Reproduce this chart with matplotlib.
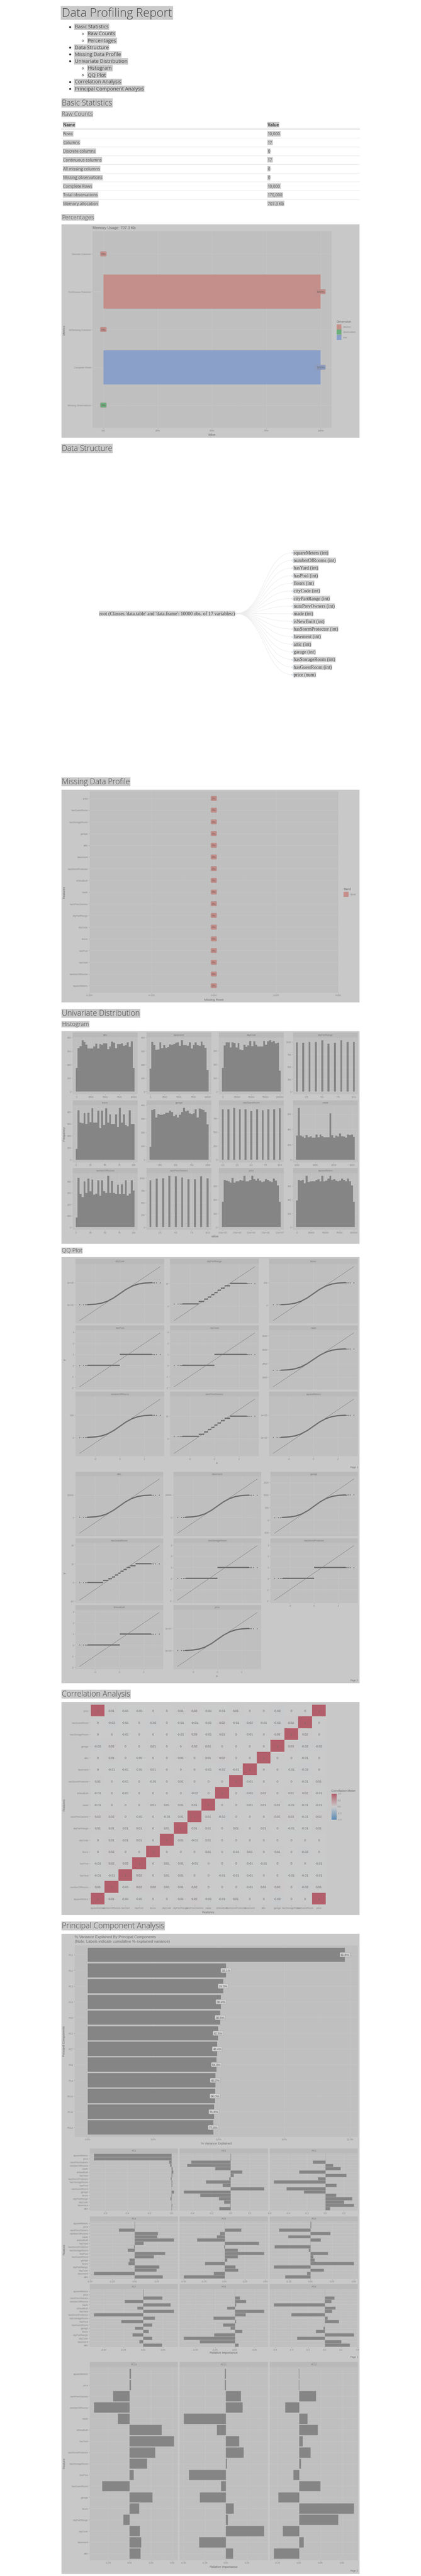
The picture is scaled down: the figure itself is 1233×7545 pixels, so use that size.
import numpy as np
import matplotlib
matplotlib.use('Agg')
import matplotlib.pyplot as plt
from matplotlib.patches import Rectangle, PathPatch
from matplotlib.path import Path
from matplotlib.colors import LinearSegmentedColormap
from matplotlib.ticker import AutoMinorLocator, NullLocator

plt.rcParams['font.family'] = ['Liberation Sans', 'DejaVu Sans']

# ---------------- data ----------------
toc_items = [('Basic Statistics', 0), ('Raw Counts', 1), ('Percentages', 1), ('Data Structure', 0),
             ('Missing Data Profile', 0), ('Univariate Distribution', 0), ('Histogram', 1),
             ('QQ Plot', 1), ('Correlation Analysis', 0), ('Principal Component Analysis', 0)]

stat_names = ['Rows', 'Columns', 'Discrete columns', 'Continuous columns', 'All missing columns',
              'Missing observations', 'Complete Rows', 'Total observations', 'Memory allocation']
stat_values = ['10,000', '17', '0', '17', '0', '0', '10,000', '170,000', '707.3 Kb']

pct_metrics = ['Discrete Columns', 'Continuous Columns', 'All Missing Columns', 'Complete Rows',
               'Missing Observations']
pct_values = [0, 100, 0, 100, 0]
pct_dimension = ['column', 'column', 'column', 'row', 'observation']

variables = ['squareMeters', 'numberOfRooms', 'hasYard', 'hasPool', 'floors', 'cityCode', 'cityPartRange',
             'numPrevOwners', 'made', 'isNewBuilt', 'hasStormProtector', 'basement', 'attic', 'garage',
             'hasStorageRoom', 'hasGuestRoom', 'price']
var_types = ['int'] * 16 + ['num']

missing_features = ['price', 'hasGuestRoom', 'hasStorageRoom', 'garage', 'attic', 'basement',
                    'hasStormProtector', 'isNewBuilt', 'made', 'numPrevOwners', 'cityPartRange',
                    'cityCode', 'floors', 'hasPool', 'hasYard', 'numberOfRooms', 'squareMeters']
missing_rows = [0] * 17

hist_attic = [175, 322, 338, 380, 368, 348, 320, 319, 319, 335, 355, 320, 352, 348, 356,
              356, 315, 335, 370, 362, 323, 353, 353, 358, 340, 345, 365, 333, 371, 175]
hist_basement = [170, 368, 345, 308, 312, 365, 322, 345, 324, 330, 350, 348, 352, 362, 365,
                 340, 380, 345, 345, 340, 365, 320, 345, 365, 345, 340, 370, 345, 325, 160]
hist_citycode = [175, 340, 362, 362, 325, 362, 356, 325, 358, 308, 303, 345, 330, 340, 372,
                 335, 370, 345, 332, 333, 333, 372, 345, 370, 378, 365, 372, 355, 360, 155]
hist_citypart_vals = [1, 2, 3, 4, 5, 6, 7, 8, 9, 10]
hist_citypart = [990, 985, 995, 1000, 1030, 965, 985, 1035, 995, 1000]
hist_floors = [90, 415, 310, 305, 390, 300, 395, 315, 430, 310, 310, 410, 265, 410, 290,
               430, 310, 380, 300, 300, 380, 275, 435, 310, 380, 290, 280, 415, 300, 300]
hist_garage = [95, 365, 370, 310, 335, 330, 330, 335, 345, 345, 360, 350, 320, 330, 310,
               330, 350, 380, 355, 360, 340, 335, 340, 370, 310, 375, 370, 365, 350, 260]
hist_guest_vals = [0, 1, 2, 3, 4, 5, 6, 7, 8, 9, 10]
hist_guest = [915, 910, 940, 910, 915, 885, 910, 895, 915, 915, 930]
hist_made = [315, 680, 315, 305, 285, 320, 295, 310, 290, 290, 330, 295, 330, 310, 295,
             295, 295, 605, 320, 290, 315, 305, 345, 310, 305, 290, 330, 320, 330, 300]
hist_rooms = [85, 430, 290, 265, 400, 300, 425, 315, 415, 285, 295, 410, 275, 410, 315,
              300, 450, 300, 405, 300, 290, 370, 290, 375, 290, 410, 275, 295, 410, 320]
hist_owners_vals = [1, 2, 3, 4, 5, 6, 7, 8, 9, 10]
hist_owners = [950, 985, 990, 1045, 1035, 1010, 975, 975, 1035, 995]
hist_price = [185, 345, 340, 335, 325, 360, 325, 335, 335, 345, 340, 375, 335, 335, 345,
              375, 350, 340, 355, 340, 330, 335, 350, 345, 335, 330, 355, 340, 305, 185]
hist_sqm = [195, 345, 340, 345, 320, 375, 330, 335, 335, 335, 345, 350, 335, 375, 335,
            340, 355, 375, 345, 350, 340, 335, 340, 355, 345, 335, 355, 335, 305, 185]

# qq: theoretical quantiles and fraction of the data range
QQ_X = [-3.29, -2.97, -2.81, -2.70, -2.61, -2.5, -2.0, -1.5, -1.0, -0.5, 0.0,
        0.5, 1.0, 1.5, 2.0, 2.5, 2.61, 2.70, 2.81, 2.97, 3.29]
QQ_FRAC = [0.0, 0.001, 0.002, 0.003, 0.004, 0.006, 0.023, 0.067, 0.159, 0.309, 0.5,
           0.691, 0.841, 0.933, 0.977, 0.994, 0.996, 0.997, 0.998, 0.999, 1.0]
qq_bounds_10 = [-1.28, -0.84, -0.52, -0.25, 0.0, 0.25, 0.52, 0.84, 1.28]
qq_bounds_11 = [-1.34, -0.91, -0.60, -0.35, -0.11, 0.11, 0.35, 0.60, 0.91, 1.34]
qq_bounds_2 = [0.0]

corr_rows = [  # rows top to bottom (price ... squareMeters), columns in `variables` order
    [1, 0.01, -0.01, -0.01, 0, 0, 0.01, 0.02, -0.01, -0.01, 0.01, 0, 0, -0.02, 0, 0, 1],
    [0, -0.02, -0.01, 0, -0.02, 0, -0.01, -0.01, -0.01, 0.02, -0.01, -0.02, -0.01, -0.02, 0.02, 1, 0],
    [0, 0, -0.01, 0, 0, 0, -0.01, 0.03, -0.01, 0.01, 0, -0.01, 0, 0.03, 1, 0.02, 0],
    [-0.02, 0.02, 0, 0, 0.01, 0, 0, 0.02, 0.01, 0, 0, 0, 0, 1, 0.03, -0.02, -0.02],
    [0, 0.01, 0, -0.01, 0, 0, 0.01, 0, 0.01, 0.02, 0, 0, 1, 0, 0, -0.01, 0],
    [0, -0.01, -0.01, -0.01, 0.01, 0, 0, 0, -0.01, -0.02, -0.01, 1, 0, 0, -0.01, -0.02, 0],
    [0.01, 0, -0.01, 0, -0.01, 0, 0.01, 0, 0, 0, 1, -0.01, 0, 0, 0, -0.01, 0.01],
    [-0.01, 0, -0.01, 0, 0, 0, 0, -0.02, 0, 1, 0, -0.02, 0.02, 0, 0.01, 0.02, -0.01],
    [-0.01, 0, 0, 0, 0.01, 0.01, 0.01, 0.01, 1, 0, 0, -0.01, 0.01, 0.01, -0.01, -0.01, -0.01],
    [0.02, 0.02, 0, -0.01, 0, -0.01, 0.01, 1, 0.01, -0.02, 0, 0, 0, 0.02, 0.03, -0.01, 0.02],
    [0.01, 0.01, 0.01, 0.01, 0, 0.01, 1, 0.01, 0.01, 0, 0.01, 0, 0.01, 0, -0.01, -0.01, 0.01],
    [0, 0.01, 0.01, 0.01, 0, 1, 0.01, -0.01, 0.01, 0, 0, 0, 0, 0, 0, 0, 0],
    [0, 0.02, 0, 0, 1, 0, 0, 0, 0.01, 0, -0.01, 0.01, 0, 0.01, 0, -0.02, 0],
    [-0.01, 0.02, 0.02, 1, 0, 0.01, 0.01, -0.01, 0, 0, 0, -0.01, -0.01, 0, 0, 0, -0.01],
    [-0.01, -0.01, 1, 0.02, 0, 0.01, 0.01, 0, 0, -0.01, -0.01, -0.01, 0, 0, -0.01, -0.01, -0.01],
    [0.01, 1, -0.01, 0.02, 0.02, 0.01, 0.01, 0.02, 0, 0, 0, -0.01, 0.01, 0.02, 0, -0.02, 0.01],
    [1, 0.01, -0.01, -0.01, 0, 0, 0.01, 0.02, -0.01, -0.01, 0.01, 0, 0, -0.02, 0, 0, 1],
]

pc_names = ['PC%d' % i for i in range(1, 13)]
pca_var = [11.77, 6.33, 6.20, 6.10, 6.06, 5.97, 5.93, 5.89, 5.84, 5.83, 5.78, 5.75]
pca_cum = ['11.8%', '18.1%', '24.3%', '30.4%', '36.5%', '42.5%', '48.4%', '54.3%', '60.2%',
           '66.0%', '71.8%', '77.6%']
load_features = ['squareMeters', 'price', 'numPrevOwners', 'numberOfRooms', 'made', 'isNewBuilt',
                 'hasYard', 'hasStormProtector', 'hasStorageRoom', 'hasPool', 'hasGuestRoom',
                 'garage', 'floors', 'cityPartRange', 'cityCode', 'basement', 'attic']
pc1 = [-0.704, -0.704, -0.024, -0.012, 0.008, 0.013, 0.006, -0.008, 0.004, 0.005, 0.0, 0.02, 0.001, -0.01, 0.0, 0.005, 0.001]
pc2 = [0.002, 0.002, -0.413, -0.458, -0.162, 0.12, 0.03, -0.015, -0.258, -0.085, 0.349, -0.493, -0.319, -0.125, -0.07, -0.005, -0.12]
pc3 = [0.0, 0.0, -0.136, 0.08, 0.161, -0.285, 0.225, -0.082, -0.557, 0.119, -0.421, -0.234, 0.115, 0.285, 0.199, 0.306, 0.047]
pc4 = [0.002, 0.002, -0.178, 0.261, 0.251, 0.439, 0.1, -0.01, -0.078, 0.341, 0.212, -0.059, -0.071, 0.273, 0.246, -0.459, 0.315]
pc5 = [0.0, 0.0, 0.202, -0.056, -0.096, -0.335, 0.418, -0.005, 0.16, 0.481, 0.16, 0.032, -0.242, 0.133, 0.165, -0.133, -0.5]
pc6 = [0.005, 0.005, -0.363, 0.225, -0.258, 0.115, 0.0, -0.415, -0.02, 0.198, 0.028, 0.045, 0.498, -0.423, 0.153, -0.04, -0.293]
pc7 = [0.003, 0.003, 0.242, -0.236, 0.346, -0.077, 0.387, -0.626, 0.146, -0.277, 0.11, -0.104, 0.069, -0.135, 0.113, -0.049, 0.236]
pc8 = [0.0, 0.0, 0.064, 0.141, 0.015, -0.097, 0.37, 0.135, -0.271, 0.015, -0.152, -0.055, 0.094, -0.265, -0.652, -0.448, 0.044]
pc9 = [0.0, 0.0, 0.116, 0.082, -0.616, 0.132, 0.087, -0.405, 0.037, 0.171, 0.002, -0.013, -0.105, 0.355, -0.334, 0.2, 0.303]
pc10 = [0.015, 0.015, -0.194, -0.417, -0.136, 0.371, 0.515, 0.295, 0.202, 0.048, -0.321, 0.263, 0.111, -0.073, 0.116, 0.134, 0.126]
pc11 = [-0.015, -0.015, 0.178, 0.198, -0.5, -0.106, 0.157, 0.209, 0.01, -0.438, -0.057, -0.309, 0.093, 0.023, 0.451, -0.317, 0.082]
pc12 = [-0.005, -0.005, 0.194, -0.164, 0.096, 0.215, 0.04, 0.131, 0.02, -0.068, 0.245, -0.242, 0.636, 0.452, -0.192, 0.05, -0.295]

# ---------------- styling ----------------
W, H = 1233, 7546
HEAD = ['Open Sans', 'DejaVu Sans']
PAGE_TXT = '#474747'
HL = '#c9c9c9'
PLOT_BG = '#c8c8c8'
PANEL_BG = '#bfbfbf'
GRID = '#c6c6c6'
GRID_MIN = '#c2c2c2'
STRIP = '#b9b9b9'
BAR = '#858585'
TICK_TXT = '#868686'
TICK_C = '#9a9a9a'
AX_TXT = '#6a6a6a'
DIM_COL = {'column': '#c48f8a', 'observation': '#6caf7c', 'row': '#8aa0c8'}

fig = plt.figure(figsize=(W / 100, H / 100), dpi=100, facecolor='white')
ov = fig.add_axes([0, 0, 1, 1], zorder=-1)
ov.set_xlim(0, W)
ov.set_ylim(H, 0)
ov.axis('off')


def ax_at(x0, y0, x1, y1):
    return fig.add_axes([x0 / W, 1 - y1 / H, (x1 - x0) / W, (y1 - y0) / H])


def bg(x0, y0, x1, y1, color=PLOT_BG):
    ov.add_patch(Rectangle((x0, y0), x1 - x0, y1 - y0, fc=color, ec='none', zorder=0))


def strip(x0, y0, x1, y1, label):
    ov.add_patch(Rectangle((x0, y0), x1 - x0, y1 - y0, fc=STRIP, ec='none', zorder=1))
    ov.text((x0 + x1) / 2, (y0 + y1) / 2, label, ha='center', va='center', fontsize=5, color='#777777')


def panel(x0, y0, x1, y1):
    ax = ax_at(x0, y0, x1, y1)
    ax.set_facecolor(PANEL_BG)
    for s in ax.spines.values():
        s.set_visible(False)
    ax.tick_params(which='major', length=2.2, width=0.6, color=TICK_C, labelsize=5,
                   labelcolor=TICK_TXT, pad=1.2)
    ax.tick_params(which='minor', length=0)
    ax.grid(True, which='major', color=GRID, lw=0.8)
    ax.grid(True, which='minor', color=GRID_MIN, lw=0.45)
    ax.set_axisbelow(True)
    return ax


def gg_lim(lo, hi, mult=0.05):
    d = (hi - lo) * mult
    return lo - d, hi + d


def hl_text(x, y, s, size, family=HEAD, color=PAGE_TXT, pad=0.08, fc=HL, **kw):
    ov.text(x, y, s, fontsize=size, family=family, color=color, va='center', ha='left',
            bbox=dict(boxstyle='square,pad=%g' % pad, fc=fc, ec='none'), **kw)


def ylab(x, y, s):
    ov.text(x, y, s, rotation=90, ha='center', va='center', fontsize=6.6, color=AX_TXT)


def xlab(x, y, s):
    ov.text(x, y, s, ha='center', va='center', fontsize=6.6, color=AX_TXT)


# ---------------- header, toc ----------------
hl_text(181, 39, 'Data Profiling Report', 25, fontweight='light', color='#444444', pad=0.08)
toc_y = [79.6, 99.9, 120.2, 140.1, 160.4, 180.3, 200.7, 220.6, 240.9, 261.2]
for (label, lvl), y in zip(toc_items, toc_y):
    if lvl == 0:
        ov.plot(204.5, y, 'o', ms=3.2, color='#333333')
        hl_text(219, y, label, 10.5, pad=0.12)
    else:
        ov.plot(242, y, 'o', ms=3.4, mfc='white', mec='#333333', mew=0.7)
        hl_text(257, y, label, 10.5, pad=0.12)

for label, y in [('Basic Statistics', 302.5), ('Data Structure', 1314.5), ('Missing Data Profile', 2291),
                 ('Univariate Distribution', 2969), ('Correlation Analysis', 4963),
                 ('Principal Component Analysis', 5642)]:
    hl_text(181, y, label, 16.3, fontweight='light', pad=0.05)
for label, y in [('Raw Counts', 335), ('Percentages', 637.5), ('Histogram', 3001), ('QQ Plot', 3664)]:
    hl_text(181, y, label, 12.3, fontweight='light', pad=0.06)

# ---------------- raw counts table ----------------
ov.plot([180, 1053], [379, 379], color='#d9d9d9', lw=1.6)
hl_text(185, 366, 'Name', 8.5, fontweight='bold', pad=0.12)
hl_text(784, 366, 'Value', 8.5, fontweight='bold', pad=0.12)
for i, (n, v) in enumerate(zip(stat_names, stat_values)):
    y = 392.6 + i * 25.6
    hl_text(185, y, n, 8.5, pad=0.12, color='#555555')
    hl_text(784, y, v, 8.5, pad=0.12, color='#555555')
    if i < len(stat_names) - 1:
        ov.plot([180, 1053], [y + 12.8, y + 12.8], color='#e4e4e4', lw=0.8)

# ---------------- percentages ----------------
bg(180, 658, 1053, 1283)
ax = panel(271, 678, 971, 1254)
n = len(pct_metrics)
ypos = np.arange(n)[::-1]
cols = [DIM_COL[d] for d in pct_dimension]
ax.barh(ypos, pct_values, height=0.9, color=cols, lw=0)
for y, v, c in zip(ypos, pct_values, cols):
    ax.text(v, y, '%d%%' % v, ha='center', va='center', fontsize=6.6, color='#6a5c5b',
            bbox=dict(boxstyle='round,pad=0.25,rounding_size=0.3', fc=c, ec='#a88', lw=0.5))
ax.set_ylim(-0.6, n - 0.4)
ax.set_yticks(ypos)
ax.set_yticklabels(pct_metrics)
ax.set_xlim(gg_lim(0, 100))
ax.set_xticks([0, 25, 50, 75, 100])
ax.set_xticklabels(['0%', '25%', '50%', '75%', '100%'])
ax.xaxis.set_minor_locator(AutoMinorLocator(2))
ov.text(271, 668, 'Memory Usage: 707.3 Kb', fontsize=8, color=AX_TXT, va='center')
ylab(188, 967.5, 'Metrics')
xlab(620.7, 1273, 'Value')
ov.text(985.5, 942, 'Dimension', fontsize=6.6, color=AX_TXT, va='center')
for i, d in enumerate(['column', 'observation', 'row']):
    y = 958.4 + i * 15.3
    ov.add_patch(Rectangle((985.5, y - 7.5), 14.5, 15, fc=DIM_COL[d], ec='none', zorder=2))
    ov.text(1004.6, y, d, fontsize=5.3, color=TICK_TXT, va='center')

# ---------------- data structure ----------------
rx, ry = 691, 1798
lx = 856
ov.text(rx - 3, ry, "root (Classes 'data.table' and 'data.frame': 10000 obs. of 17 variables:)",
        ha='right', va='center', fontsize=10.3, family=['Liberation Serif', 'DejaVu Serif'],
        color='#444444', bbox=dict(boxstyle='square,pad=0.08', fc='#d2d2d2', ec='none'))
for i, (v, t) in enumerate(zip(variables, var_types)):
    y = 1619.8 + i * 22.35
    mx = (rx + lx) / 2
    p = Path([(rx, ry), (mx, ry), (mx, y), (lx, y)], [Path.MOVETO, Path.CURVE4, Path.CURVE4, Path.CURVE4])
    ov.add_patch(PathPatch(p, fc='none', ec='#ececec', lw=0.9, zorder=1))
    ov.plot(lx, y, 'o', ms=3, mfc='white', mec='#b9c9dc', mew=0.7, zorder=3)
    ov.text(lx + 4, y, '%s (%s)' % (v, t), ha='left', va='center', fontsize=9.9,
            family=['Liberation Serif', 'DejaVu Serif'], color='#444444',
            bbox=dict(boxstyle='square,pad=0.08', fc='#d2d2d2', ec='none'))
ov.plot(rx, ry, 'o', ms=3, mfc='white', mec='#b9c9dc', mew=0.7, zorder=3)

# ---------------- missing data profile ----------------
bg(180, 2314, 1053, 2937)
ax = panel(262, 2319, 990.5, 2908.5)
n = len(missing_features)
ypos = np.arange(n)[::-1]
ax.barh(ypos, missing_rows, height=0.9, color='#c48f8a', lw=0)
for y, v in zip(ypos, missing_rows):
    ax.text(v, y, '%d%%' % v, ha='center', va='center', fontsize=6.2, color='#7a5a58',
            bbox=dict(boxstyle='round,pad=0.25,rounding_size=0.3', fc='#c48f8a', ec='#aa7f7b', lw=0.5))
ax.set_ylim(-0.6, n - 0.4)
ax.set_yticks(ypos)
ax.set_yticklabels(missing_features)
ax.set_xlim(-0.05, 0.05)
ax.set_xticks([-0.05, -0.025, 0, 0.025, 0.05])
ax.set_xticklabels(['-0.050', '-0.025', '0.000', '0.025', '0.050'])
ax.xaxis.set_minor_locator(AutoMinorLocator(2))
ylab(188, 2614, 'Features')
xlab(626.4, 2928, 'Missing Rows')
ov.text(1006, 2604, 'Band', fontsize=6.6, color=AX_TXT, va='center')
ov.add_patch(Rectangle((1006, 2613), 14.5, 15, fc='#c48f8a', ec='none', zorder=2))
ov.text(1025, 2620.5, 'Good', fontsize=5.3, color=TICK_TXT, va='center')

# ---------------- histograms ----------------
bg(180, 3020.5, 1053, 3644)
t5 = [0, 2500, 5000, 7500, 10000]
t100k = [0, 25000, 50000, 75000, 100000]
t100 = [0, 25, 50, 75, 100]
hist_specs = [
    ('attic', 1, 10000, None, hist_attic, t5, [str(t) for t in t5], [0, 100, 200, 300, 400]),
    ('basement', 0, 10000, None, hist_basement, t5, [str(t) for t in t5], [0, 100, 200, 300, 400]),
    ('cityCode', 3, 99953, None, hist_citycode, t100k, [str(t) for t in t100k], [0, 100, 200, 300]),
    ('cityPartRange', 1, 10, hist_citypart_vals, hist_citypart, [2.5, 5, 7.5, 10], ['2.5', '5.0', '7.5', '10.0'], [0, 250, 500, 750, 1000]),
    ('floors', 1, 100, None, hist_floors, t100, [str(t) for t in t100], [0, 100, 200, 300, 400]),
    ('garage', 100, 1000, None, hist_garage, [250, 500, 750, 1000], ['250', '500', '750', '1000'], [0, 100, 200, 300, 400]),
    ('hasGuestRoom', 0, 10, hist_guest_vals, hist_guest, [0, 2.5, 5, 7.5, 10], ['0.0', '2.5', '5.0', '7.5', '10.0'], [0, 250, 500, 750]),
    ('made', 1990, 2021, None, hist_made, [1990, 2000, 2010, 2020], ['1990', '2000', '2010', '2020'], [0, 200, 400, 600]),
    ('numberOfRooms', 1, 100, None, hist_rooms, t100, [str(t) for t in t100], [0, 100, 200, 300, 400]),
    ('numPrevOwners', 1, 10, hist_owners_vals, hist_owners, [2.5, 5, 7.5, 10], ['2.5', '5.0', '7.5', '10.0'], [0, 250, 500, 750, 1000]),
    ('price', 10313, 10006771, None, hist_price, [0, 2.5e6, 5e6, 7.5e6, 1e7], ['0.0e+00', '2.5e+06', '5.0e+06', '7.5e+06', '1.0e+07'], [0, 100, 200, 300]),
    ('squareMeters', 89, 99999, None, hist_sqm, t100k, [str(t) for t in t100k], [0, 100, 200, 300]),
]
h_cols = [(213, 403), (429, 619.4), (641, 831), (858, 1048)]
h_rows = [(3025, 3040, 3206), (3224, 3238, 3405.6), (3422, 3437, 3603)]
for k, (name, lo, hi, vals, counts, xt, xtl, yt) in enumerate(hist_specs):
    r, c = divmod(k, 4)
    x0, x1 = h_cols[c]
    s0, s1, p1 = h_rows[r]
    strip(x0, s0, x1, s1, name)
    ax = panel(x0, s1, x1, p1)
    w = (hi - lo) / 29.0
    xs = vals if vals is not None else np.linspace(lo, hi, 30)
    ax.bar(xs, counts, width=w, color=BAR, lw=0)
    ax.set_xlim(gg_lim(lo - w / 2, hi + w / 2))
    ax.set_ylim(gg_lim(0, max(counts)))
    ax.set_xticks(xt)
    ax.set_xticklabels(xtl)
    ax.set_yticks(yt)
    ax.xaxis.set_minor_locator(AutoMinorLocator(2))
    ax.yaxis.set_minor_locator(AutoMinorLocator(2))
ylab(188, 3321, 'Frequency')
xlab(630, 3622, 'value')

# ---------------- qq plots ----------------
bg(180, 3682.6, 1053, 4931)
tick3 = [-2, -1, 0, 1, 2, 3]
qq_page1 = [
    ('cityCode', 'c', (3, 99953), (-72000, 172000), [0, 1e5], ['0e+00', '1e+05']),
    ('cityPartRange', 'd', (list(range(1, 11)), qq_bounds_10), (-6.5, 17.5), [0, 10], ['0', '10']),
    ('floors', 'c', (1, 100), (-70, 171), [0, 100], ['0', '100']),
    ('hasPool', 'd', ([0, 1], qq_bounds_2), (-1.94, 2.94), tick3, [str(t) for t in tick3]),
    ('hasYard', 'd', ([0, 1], qq_bounds_2), (-1.94, 2.94), tick3, [str(t) for t in tick3]),
    ('made', 'c', (1990, 2021), (1966, 2044), [1980, 2000, 2020, 2040], ['1980', '2000', '2020', '2040']),
    ('numberOfRooms', 'c', (1, 100), (-70, 171), [0, 100], ['0', '100']),
    ('numPrevOwners', 'd', (list(range(1, 11)), qq_bounds_10), (-6.5, 17.5), [0, 10], ['0', '10']),
    ('squareMeters', 'c', (89, 99999), (-72000, 172000), [0, 1e5], ['0e+00', '1e+05']),
]
qq_page2 = [
    ('attic', 'c', (1, 10000), (-7200, 17200), [0, 10000], ['0', '10000']),
    ('basement', 'c', (0, 10000), (-7200, 17200), [0, 10000], ['0', '10000']),
    ('garage', 'c', (100, 1000), (-530, 1630), [-500, 0, 500, 1000, 1500], ['-500', '0', '500', '1000', '1500']),
    ('hasGuestRoom', 'd', (list(range(0, 11)), qq_bounds_11), (-9.5, 19.7), [-10, 0, 10, 20], ['-10', '0', '10', '20']),
    ('hasStorageRoom', 'd', ([0, 1], qq_bounds_2), (-1.94, 2.94), tick3, [str(t) for t in tick3]),
    ('hasStormProtector', 'd', ([0, 1], qq_bounds_2), (-1.94, 2.94), tick3, [str(t) for t in tick3]),
    ('isNewBuilt', 'd', ([0, 1], [0.05]), (-1.94, 2.94), tick3, [str(t) for t in tick3]),
    ('price', 'c', (10313, 10006771), (-7.2e6, 1.72e7), [0, 1e7], ['0e+00', '1e+07']),
]
QQ_PT = '#6b6b6b'


def draw_qq(ax, kind, spec, line, yt, ytl, show_x):
    x = np.array(QQ_X)
    if kind == 'c':
        lo, hi = spec
        y = lo + np.array(QQ_FRAC) * (hi - lo)
        ax.plot(x[4:-4], y[4:-4], color=QQ_PT, lw=2.6, solid_capstyle='round')
        ax.plot(np.r_[x[:5], x[-5:]], np.r_[y[:5], y[-5:]], 'o', ms=2.0, color=QQ_PT, mew=0)
        dlo, dhi = lo, hi
    else:
        levels, bounds = spec
        edges = [-2.61] + list(bounds) + [2.61]
        for lev, a, b in zip(levels, edges[:-1], edges[1:]):
            ax.plot([a, b], [lev, lev], color=QQ_PT, lw=2.6, solid_capstyle='butt')
        ax.plot(x[:5], [levels[0]] * 5, 'o', ms=2.0, color=QQ_PT, mew=0)
        ax.plot(x[-5:], [levels[-1]] * 5, 'o', ms=2.0, color=QQ_PT, mew=0)
        dlo, dhi = levels[0], levels[-1]
    ax.plot([-3.29, 3.29], line, color='#7e7e7e', lw=0.7)
    ax.set_xlim(gg_lim(-3.29, 3.29))
    ax.set_ylim(gg_lim(min(dlo, line[0]), max(dhi, line[1])))
    ax.set_xticks([-2, 0, 2])
    ax.set_yticks(yt)
    ax.set_yticklabels(ytl)
    ax.xaxis.set_minor_locator(AutoMinorLocator(2))
    ax.yaxis.set_minor_locator(AutoMinorLocator(2))
    if not show_x:
        ax.tick_params(axis='x', which='both', length=0, labelbottom=False)


p1_cols = [(221, 481), (498, 758), (788, 1048)]
p1_rows = [(3688, 3703, 3877), (3883, 3897, 4071), (4077, 4091, 4266)]
for k, (name, kind, spec, line, yt, ytl) in enumerate(qq_page1):
    r, c = divmod(k, 3)
    x0, x1 = p1_cols[c]
    s0, s1, p_end = p1_rows[r]
    strip(x0, s0, x1, s1, name)
    ax = panel(x0, s1, x1, p_end)
    draw_qq(ax, kind, spec, line, yt, ytl, r == 2)
ylab(189.5, 3982.6, 'y')
xlab(635, 4285, 'x')
ov.text(1048, 4298, 'Page 1', ha='right', va='center', fontsize=5, color=AX_TXT)

p2_cols = [(221, 478), (508, 765), (792, 1048)]
p2_rows = [(4311.5, 4325, 4500), (4507, 4520, 4696), (4702, 4716, 4890)]
for k, (name, kind, spec, line, yt, ytl) in enumerate(qq_page2):
    r, c = divmod(k, 3)
    x0, x1 = p2_cols[c]
    s0, s1, p_end = p2_rows[r]
    strip(x0, s0, x1, s1, name)
    ax = panel(x0, s1, x1, p_end)
    draw_qq(ax, kind, spec, line, yt, ytl, r == 2 or (r == 1 and c == 2))
ylab(189.5, 4608, 'y')
xlab(635, 4909, 'x')
ov.text(1048, 4922, 'Page 2', ha='right', va='center', fontsize=5, color=AX_TXT)

# ---------------- correlation ----------------
bg(180, 4986, 1053, 5610)
corr = np.array(corr_rows, dtype=float)
row_labels = variables[::-1]
cmap = LinearSegmentedColormap.from_list('corr', ['#5e8cb8', '#cbcbcb', '#b35f6b'])
ax = ax_at(264, 4993, 956, 5581)
ax.set_facecolor('#c9c9c9')
for s in ax.spines.values():
    s.set_visible(False)
ax.imshow(corr, cmap=cmap, vmin=-1, vmax=1, aspect='auto', interpolation='nearest')
for i in range(corr.shape[0]):
    for j in range(corr.shape[1]):
        v = corr[i, j]
        txt = '1' if v == 1 else ('0' if v == 0 else '%g' % v)
        ax.text(j, i, txt, ha='center', va='center', fontsize=6.6, color='#6a6a6a')
ax.set_xlim(-0.55, 16.55)
ax.set_ylim(16.55, -0.55)
ax.set_xticks(range(17))
ax.set_xticklabels(variables)
ax.set_yticks(range(17))
ax.set_yticklabels(row_labels)
ax.tick_params(length=2.2, width=0.6, color=TICK_C, labelsize=5, labelcolor=TICK_TXT, pad=1.2)
ylab(188, 5287, 'Features')
xlab(610, 5601, 'Features')
ov.text(970, 5246, 'Correlation Meter', fontsize=6.6, color=AX_TXT, va='center')
cax = ax_at(971, 5255, 985.5, 5331)
cax.imshow(np.linspace(1, -1, 60).reshape(-1, 1), cmap=cmap, vmin=-1, vmax=1, aspect='auto')
cax.axis('off')
for v, lab in zip([1, 0.5, 0, -0.5, -1], ['1.0', '0.5', '0.0', '-0.5', '-1.0']):
    ov.text(989, 5255 + (1 - v) / 2 * 76, lab, fontsize=5, color=TICK_TXT, va='center')

# ---------------- pca variance ----------------
bg(180, 5665, 1053, 7540)
ax = panel(219, 5698.7, 1048, 6259.7)
n = len(pc_names)
ypos = np.arange(n)[::-1]
ax.barh(ypos, pca_var, height=0.9, color=BAR, lw=0)
for y, v, lab in zip(ypos, pca_var, pca_cum):
    ax.text(v, y, lab, ha='center', va='center', fontsize=6.6, color='#5e5e5e',
            bbox=dict(boxstyle='round,pad=0.25,rounding_size=0.3', fc='#cfcfcf', ec='#9e9e9e', lw=0.5))
ax.set_ylim(-0.6, n - 0.4)
ax.set_yticks(ypos)
ax.set_yticklabels(pc_names)
ax.set_xlim(gg_lim(0, max(pca_var)))
ax.set_xticks([0, 3, 6, 9, 12])
ax.set_xticklabels(['0.0%', '3.0%', '6.0%', '9.0%', '12.0%'])
ax.xaxis.set_minor_locator(AutoMinorLocator(2))
ov.text(219, 5674, '% Variance Explained By Principal Components', fontsize=8, color=AX_TXT, va='center')
ov.text(219, 5687, '(Note: Labels indicate cumulative % explained variance)', fontsize=8, color=AX_TXT, va='center')
ylab(188, 5979, 'Principal Components')
xlab(633.5, 6278.6, '% Variance Explained')

# ---------------- pca loadings ----------------
loadings = [pc1, pc2, pc3, pc4, pc5, pc6, pc7, pc8, pc9, pc10, pc11, pc12]
load_ticks = [
    [-0.6, -0.4, -0.2, 0.0], [-0.4, -0.2, 0.0, 0.2], [-0.6, -0.4, -0.2, 0.0, 0.2],
    [-0.5, -0.25, 0, 0.25], [-0.5, -0.25, 0, 0.25, 0.5], [-0.25, 0, 0.25, 0.5],
    [-0.5, -0.25, 0, 0.25], [-0.5, -0.25, 0, 0.25], [-0.6, -0.4, -0.2, 0.0, 0.2, 0.4],
    [-0.25, 0, 0.25, 0.5], [-0.5, -0.25, 0, 0.25], [-0.25, 0, 0.25, 0.5],
]
l_cols = [(263, 520.5), (526, 784.6), (790, 1048)]
l_rows = [(6294, 6308, 6475.5), (6493, 6507, 6675.5), (6691, 6706, 6875), (6918.6, 6933.6, 7499.6)]
nf = len(load_features)
ypos = np.arange(nf)[::-1]
for k, (vals, ticks) in enumerate(zip(loadings, load_ticks)):
    r, c = divmod(k, 3)
    x0, x1 = l_cols[c]
    s0, s1, p_end = l_rows[r]
    strip(x0, s0, x1, s1, pc_names[k])
    ax = panel(x0, s1, x1, p_end)
    ax.barh(ypos, vals, height=0.9, color=BAR, ec='#979797', lw=0.4)
    ax.set_ylim(-0.6, nf - 0.4)
    ax.set_yticks(ypos)
    if c == 0:
        ax.set_yticklabels(load_features)
    else:
        ax.set_yticklabels([])
        ax.tick_params(axis='y', length=0)
    ax.set_xlim(gg_lim(min(min(vals), 0), max(max(vals), 0)))
    ax.set_xticks(ticks)
    dec = 1 if all(abs(t * 10 - round(t * 10)) < 1e-9 for t in ticks) else 2
    ax.set_xticklabels([('%.' + str(dec) + 'f') % t for t in ticks])
    ax.xaxis.set_minor_locator(AutoMinorLocator(2))
ylab(188, 6589, 'Feature')
xlab(655, 6892, 'Relative Importance')
ov.text(1048, 6905, 'Page 1', ha='right', va='center', fontsize=5, color=AX_TXT)
ylab(188, 7215, 'Feature')
xlab(655, 7518.6, 'Relative Importance')
ov.text(1048, 7531, 'Page 2', ha='right', va='center', fontsize=5, color=AX_TXT)

fig.savefig('out.png', dpi=100, facecolor='white')
